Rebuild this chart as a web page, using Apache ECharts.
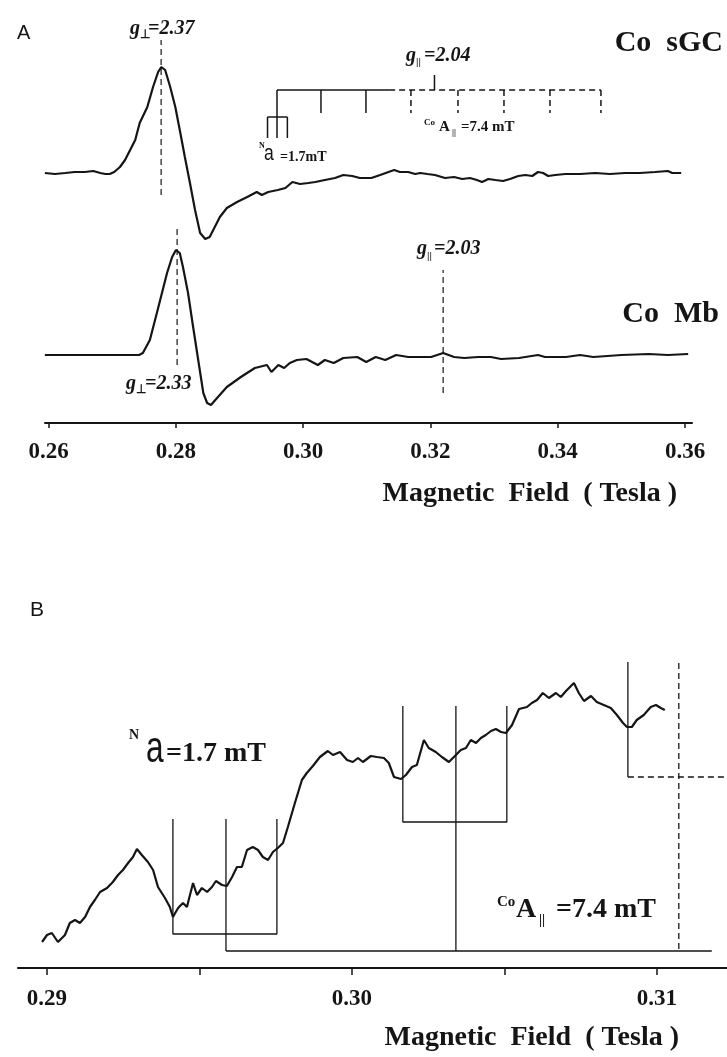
<!DOCTYPE html>
<html><head><meta charset="utf-8">
<script src="https://cdn.jsdelivr.net/npm/echarts@6/dist/echarts.min.js"></script>
<style>html,body{margin:0;padding:0;background:#fff}#c{width:727px;height:1057px}</style>
</head><body><div id="c"></div><script>
// ---------- Panel A data (field in Tesla, signal in arbitrary units) ----------
const aTicks = [0.26, 0.28, 0.30, 0.32, 0.34, 0.36];
const sgcField = [0.2594,0.2610,0.2626,0.2641,0.2657,0.2670,0.2681,0.2689,0.2696,0.2703,0.2712,0.2720,0.2728,0.2736,0.2743,0.2755,0.2764,0.2772,0.2777,0.2783,0.2791,0.2799,0.2806,0.2814,0.2822,0.2830,0.2838,0.2846,0.2853,0.2861,0.2869,0.2880,0.2896,0.2912,0.2927,0.2935,0.2945,0.2960,0.2972,0.2983,0.2995,0.3008,0.3019,0.3034,0.3050,0.3063,0.3077,0.3089,0.3107,0.3121,0.3134,0.3143,0.3152,0.3165,0.3176,0.3184,0.3195,0.3207,0.3223,0.3237,0.3250,0.3262,0.3273,0.3281,0.3291,0.3302,0.3314,0.3325,0.3338,0.3349,0.3360,0.3369,0.3377,0.3385,0.3396,0.3412,0.3435,0.3459,0.3482,0.3506,0.3529,0.3553,0.3573,0.3580,0.3594];
const sgcSignal = [0,-1,0,1,1,2,0,-1,-1,1,6,13,23,33,50,66,86,101,106,103,86,66,43,16,-10,-37,-60,-66,-64,-54,-44,-35,-29,-24,-19,-22,-19,-17,-15,-9,-11,-10,-9,-7,-5,-2,-3,-5,-5,-2,1,3,1,1,-1,0,-1,-2,-5,-4,-6,-5,-7,-9,-6,-7,-8,-6,-3,-2,-3,1,0,-3,-2,-1,-1,0,-1,0,0,1,2,0,0];
const mbField = [0.2594,0.2649,0.2712,0.2742,0.2748,0.2759,0.2770,0.2778,0.2786,0.2794,0.2800,0.2806,0.2811,0.2819,0.2827,0.2835,0.2843,0.2849,0.2855,0.2866,0.2880,0.2902,0.2924,0.2943,0.2950,0.2961,0.2970,0.2979,0.2990,0.3005,0.3023,0.3034,0.3048,0.3063,0.3085,0.3099,0.3114,0.3129,0.3146,0.3165,0.3184,0.3201,0.3220,0.3237,0.3253,0.3275,0.3295,0.3311,0.3339,0.3369,0.3380,0.3413,0.3435,0.3456,0.3500,0.3543,0.3573,0.3605];
const mbSignal = [-1,-1,-1,-1,1,14,41,61,81,97,104,101,87,61,27,-6,-39,-49,-51,-43,-33,-23,-14,-11,-18,-11,-14,-9,-6,-5,-11,-6,-9,-4,-3,-8,-3,-6,-1,-3,-3,-3,1,-3,-4,-3,-3,-5,-4,-1,-3,-3,-1,-3,-1,0,-1,0];
// stick diagram (Co sGC): 8 Co hyperfine lines, N triplet on the first
const aCoLines = [0.29588,0.30279,0.30986,0.31693,0.32432,0.33155,0.33878,0.34679];
const aNTriplet = [0.29439,0.29588,0.29751];
const aGpar204 = 0.32063;
const aSolidEnd = 0.3135;
// g-markers
const gPerpSgc = 0.27767, gPerpMb = 0.28018, gParMb = 0.32199;

// ---------- Panel B data ----------
const bTicks = [0.29, 0.295, 0.30, 0.305, 0.31];
const bLabels = [0.29, 0.30, 0.31];
const bField = [0.28984,0.29000,0.29016,0.29036,0.29059,0.29075,0.29092,0.29108,0.29125,0.29141,0.29157,0.29174,0.29197,0.29216,0.29233,0.29249,0.29266,0.29282,0.29295,0.29311,0.29331,0.29348,0.29364,0.29387,0.29403,0.29413,0.29430,0.29446,0.29459,0.29479,0.29492,0.29508,0.29525,0.29541,0.29554,0.29574,0.29590,0.29607,0.29623,0.29639,0.29656,0.29675,0.29692,0.29708,0.29725,0.29741,0.29757,0.29774,0.29790,0.29813,0.29836,0.29852,0.29872,0.29895,0.29921,0.29938,0.29961,0.29984,0.30003,0.30020,0.30036,0.30062,0.30082,0.30105,0.30121,0.30138,0.30161,0.30177,0.30197,0.30213,0.30236,0.30252,0.30275,0.30295,0.30318,0.30341,0.30357,0.30374,0.30390,0.30407,0.30423,0.30439,0.30456,0.30472,0.30489,0.30505,0.30525,0.30548,0.30574,0.30590,0.30607,0.30626,0.30646,0.30669,0.30685,0.30702,0.30728,0.30744,0.30761,0.30784,0.30803,0.30826,0.30849,0.30869,0.30889,0.30902,0.30918,0.30934,0.30957,0.30980,0.30997,0.31013,0.31026];
const bSignal = [26,33,35,26,33,45,48,45,51,61,68,76,80,86,93,98,105,111,119,113,106,98,81,70,61,51,60,65,61,85,73,80,76,81,87,83,82,91,101,101,118,121,118,111,108,116,120,125,141,165,188,195,202,211,217,213,216,208,206,210,206,212,211,210,205,191,189,193,201,203,228,220,216,211,206,213,218,220,228,225,230,233,237,239,236,235,243,259,261,265,268,275,270,275,271,277,285,275,267,272,266,263,260,253,245,241,241,248,253,261,263,260,258];
const bNGroup1 = [0.29413,0.29587,0.29754];
const bNGroup2 = [0.30167,0.30341,0.30508];
const bNLine3 = 0.30905;
const bCoLines = [0.29587,0.30341,0.31072];
const bCoEnd = 0.31180;

// ---------- layout constants ----------
const SGC_OFF = 250, MB_OFF = 69;
const INK = '#151515';
const SERIF = '"Liberation Serif","Times New Roman",serif';
const SANS = '"Liberation Sans",Arial,sans-serif';

const series = [];
function seg(g, coords, dashed, w) {
  series.push({type:'line', xAxisIndex:g, yAxisIndex:g, data:coords, showSymbol:false, silent:true,
    animation:false, lineStyle:{color:INK, width:w||1.3, type: dashed ? [6,4] : 'solid'}});
}
function trace(g, xs, ys, off) {
  series.push({type:'line', xAxisIndex:g, yAxisIndex:g, data:xs.map((x,i)=>[x, off+ys[i]]),
    showSymbol:false, silent:true, animation:false, lineStyle:{color:INK, width:2.2}});
}
trace(0, sgcField, sgcSignal, SGC_OFF);
trace(0, mbField, mbSignal, MB_OFF);
// g markers (dashed)
seg(0, [[gPerpSgc,228],[gPerpSgc,383]], true, 1.2);
seg(0, [[gPerpMb,58],[gPerpMb,196]], true, 1.2);
seg(0, [[gParMb,30],[gParMb,153]], true, 1.2);
// stick diagram panel A
seg(0, [[aGpar204,333],[aGpar204,348]], false, 1.5);
seg(0, [[aCoLines[0],333],[aSolidEnd,333]], false, 1.5);
seg(0, [[aSolidEnd,333],[aCoLines[7],333]], true, 1.5);
seg(0, [[aCoLines[0],333],[aCoLines[0],306]], false, 1.5);
aCoLines.slice(1).forEach((x,i)=> seg(0, [[x,333],[x,310]], i>=2, 1.5));
seg(0, [[aNTriplet[0],306],[aNTriplet[2],306]], false, 1.5);
aNTriplet.forEach(x=> seg(0, [[x,306],[x,285]], false, 1.5));

// panel B trace and sticks
trace(1, bField, bSignal, 0);
seg(1, [[bNGroup1[0],149],[bNGroup1[0],34],[bNGroup1[2],34],[bNGroup1[2],149]], false, 1.3);
seg(1, [[bNGroup1[1],149],[bNGroup1[1],17]], false, 1.3);
seg(1, [[bNGroup2[0],262],[bNGroup2[0],146],[bNGroup2[2],146],[bNGroup2[2],262]], false, 1.3);
seg(1, [[bNGroup2[1],262],[bNGroup2[1],17]], false, 1.3);
seg(1, [[bCoLines[0],17],[bCoEnd,17]], false, 1.3);
seg(1, [[bNLine3,306],[bNLine3,191]], false, 1.3);
seg(1, [[bNLine3,191],[0.3123,191]], true, 1.3);
seg(1, [[bCoLines[2],305],[bCoLines[2],17]], true, 1.3);

function xAxisCfg(g, min, max, ticks, labels, margin, tickLen) {
  return {type:'value', gridIndex:g, min:min, max:max, splitLine:{show:false},
    axisLine:{show:true, onZero:false, lineStyle:{color:INK, width:2}},
    axisTick:{show:true, inside:false, length:tickLen, customValues:ticks, lineStyle:{color:INK, width:1.5}},
    axisLabel:{show:true, customValues:labels, margin:margin, color:INK, fontFamily:SERIF,
      fontWeight:'bold', fontSize:23, formatter:v=>v.toFixed(2)}};
}

function T(x, y, text, font, align, extra) {
  return Object.assign({type:'text', x:x, y:y, silent:true,
    style:{text:text, font:font, fill:INK, textAlign:align||'left', textVerticalAlign:'middle'}}, extra||{});
}
const gI = 'italic bold 20px ' + SERIF;
const graphic = [
  T(17, 33, 'A', '20px ' + SANS),
  T(30, 610, 'B', '21px ' + SANS),
  T(723, 43, 'Co  sGC', 'bold 30px ' + SERIF, 'right'),
  T(719, 314, 'Co  Mb', 'bold 30px ' + SERIF, 'right'),
  // g labels
  T(130, 29, 'g', gI), T(140, 35, '⊥', 'bold 12px ' + SERIF), T(148, 29, '=2.37', gI),
  T(406, 56, 'g', gI), T(416, 62, '||', 'bold 11px ' + SERIF), T(424, 56, '=2.04', gI),
  T(417, 249, 'g', gI), T(427, 256, '||', 'bold 11px ' + SERIF), T(434, 249, '=2.03', gI),
  T(126, 384, 'g', gI), T(136, 390, '⊥', 'bold 12px ' + SERIF), T(145, 384, '=2.33', gI),
  // small stick labels panel A
  T(259, 146, 'N', 'bold 8px ' + SERIF), T(264, 154, 'a', '22px ' + SANS, 'left', {scaleX:0.8}),
  T(280, 157, '=1.7mT', 'bold 14px ' + SERIF),
  T(424, 123, 'Co', 'bold 9px ' + SERIF), T(439, 127, 'A', 'bold 15px ' + SERIF), T(452, 133, '||', 'bold 9px ' + SERIF), T(461, 127, '=7.4 mT', 'bold 15px ' + SERIF),
  // axis titles
  T(677, 494, 'Magnetic  Field  ( Tesla )', 'bold 28px ' + SERIF, 'right'),
  T(679, 1038, 'Magnetic  Field  ( Tesla )', 'bold 28px ' + SERIF, 'right'),
  // panel B labels
  T(129, 735, 'N', 'bold 14px ' + SERIF), T(146, 750, 'a', '44px ' + SANS, 'left', {scaleX:0.72}),
  T(166, 754, '=1.7 mT', 'bold 28px ' + SERIF),
  T(497, 902, 'Co', 'bold 15px ' + SERIF), T(516, 910, 'A', 'bold 28px ' + SERIF), T(539, 920, '||', 'bold 14px ' + SERIF), T(556, 910, '=7.4 mT', 'bold 28px ' + SERIF)
];

const option = {
  backgroundColor:'#fff', animation:false,
  grid:[{left:45, width:647, top:0, height:423}, {left:18, width:709, top:600, height:368}],
  xAxis:[xAxisCfg(0, 0.25942, 0.3611, aTicks, aTicks, 18, 5),
         xAxisCfg(1, 0.28905, 0.3123, bTicks, bLabels, 20, 7)],
  yAxis:[{type:'value', gridIndex:0, min:0, max:423, show:false},
         {type:'value', gridIndex:1, min:0, max:368, show:false}],
  series:series,
  graphic:graphic
};
const chart = echarts.init(document.getElementById('c'), null, {renderer:'canvas'});
chart.setOption(option);
</script></body></html>
